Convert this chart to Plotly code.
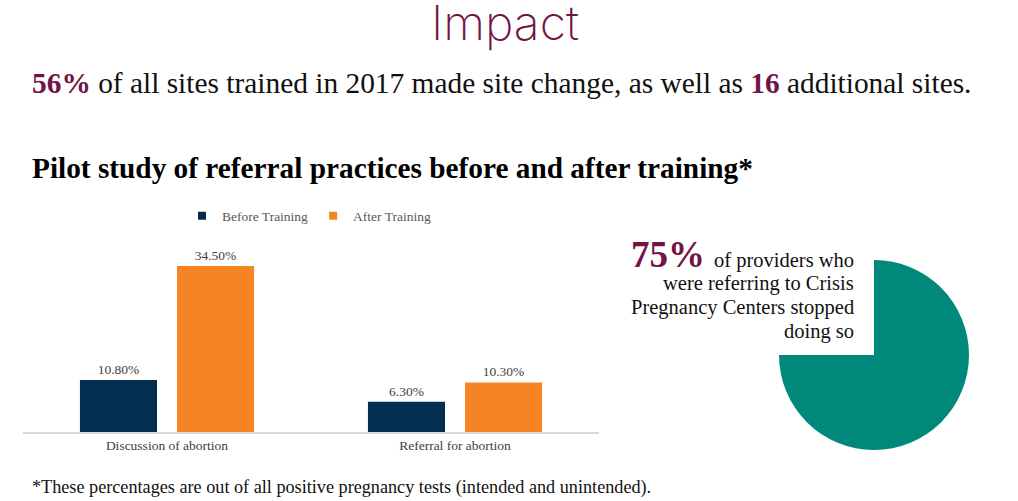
import plotly.graph_objects as go

# ---- data ----
categories = ["Discussion of abortion", "Referral for abortion"]
before_training = [10.8, 6.3]
after_training = [34.5, 10.3]
series_names = ["Before Training", "After Training"]
pie_labels = ["Stopped referring to CPCs", "Other"]
pie_values = [75, 25]
pie_caption_lines = ["of providers who", "were referring to Crisis", "Pregnancy Centers stopped", "doing so"]

W, H = 1018, 501
MAROON = "#731446"
NAVY = "#032E51"
ORANGE = "#F58424"
TEAL = "#00897A"
SERIF = "Liberation Serif"
SMALL = 13.5

def px_x(x):
    return x / W

def px_y(y):
    return (H - y) / H

fig = go.Figure()
for name, vals, col in [(series_names[0], before_training, NAVY), (series_names[1], after_training, ORANGE)]:
    fig.add_trace(go.Bar(
        x=categories, y=vals, name=name, showlegend=False, legendgroup=name,
        marker=dict(color=col, line=dict(width=0)),
        texttemplate="%{y:.2f}%", textposition="outside",
        textfont=dict(family=SERIF, size=SMALL, color="#404040"),
        cliponaxis=False, hoverinfo="skip",
    ))
    # legend entry with a small square swatch
    fig.add_trace(go.Scatter(
        x=[None], y=[None], mode="markers", name=name, legendgroup=name,
        marker=dict(symbol="square", size=8, color=col), hoverinfo="skip",
    ))

fig.add_trace(go.Pie(
    labels=pie_labels, values=pie_values,
    marker=dict(colors=[TEAL, "rgba(255,255,255,0)"], line=dict(width=0)),
    sort=False, direction="clockwise", rotation=0,
    textinfo="none", hoverinfo="skip", showlegend=False,
    domain=dict(x=[px_x(874 - 95), px_x(874 + 95)], y=[px_y(355 + 95), px_y(355 - 95)]),
))

def ann(**kw):
    d = dict(xref="paper", yref="paper", showarrow=False)
    d.update(kw)
    return d

annotations = [
    ann(text="Impact", x=px_x(505), y=px_y(22), xanchor="center", yanchor="middle",
        font=dict(family="Inter", size=48, color=MAROON, weight=200)),
    ann(text=f"<b><span style='color:{MAROON}'>56%</span></b> of all sites trained in 2017 made site change, as well as "
             f"<b><span style='color:{MAROON}'>16</span></b> additional sites.",
        x=px_x(30), y=px_y(83), xanchor="left", yanchor="middle",
        font=dict(family=SERIF, size=29.4, color="#111111")),
    ann(text="<b>Pilot study of referral practices before and after training*</b>",
        x=px_x(30), y=px_y(168), xanchor="left", yanchor="middle",
        font=dict(family=SERIF, size=29.3, color="#000000")),
    ann(text="<b>75%</b>", x=px_x(707), y=px_y(254), xanchor="right", yanchor="middle",
        font=dict(family=SERIF, size=37, color=MAROON)),
    ann(text="*These percentages are out of all positive pregnancy tests (intended and unintended).",
        x=px_x(30), y=px_y(487), xanchor="left", yanchor="middle",
        font=dict(family=SERIF, size=18.2, color="#111111")),
]
for i, line in enumerate(pie_caption_lines):
    annotations.append(ann(text=line, x=px_x(856), y=px_y(260 + 23.8 * i), xanchor="right", yanchor="middle",
                           font=dict(family=SERIF, size=20.5, color="#111111")))

fig.update_layout(
    width=W, height=H, autosize=False,
    margin=dict(l=0, r=0, t=0, b=0),
    paper_bgcolor="white", plot_bgcolor="white",
    barmode="group", bargap=0.326, bargroupgap=0.206,
    showlegend=True,
    legend=dict(orientation="h", x=px_x(309), y=px_y(216), xanchor="center", yanchor="middle",
                font=dict(family=SERIF, size=SMALL, color="#595959"), bgcolor="rgba(0,0,0,0)",
                itemwidth=30, itemclick=False, itemdoubleclick=False, tracegroupgap=0),
    xaxis=dict(domain=[px_x(23), px_x(599)], range=[-0.5, 1.5], showgrid=False,
               showline=True, linecolor="#D9D9D9", linewidth=1.5, ticks="",
               tickfont=dict(family=SERIF, size=SMALL, color="#404040"), fixedrange=True),
    yaxis=dict(domain=[px_y(432), px_y(432 - 38 * 4.812)], range=[0, 38], visible=False,
               showgrid=False, zeroline=False, fixedrange=True),
    annotations=annotations,
)

fig.write_html("out.html", config={"displayModeBar": False})
with open("out.html", "r", encoding="utf-8") as f:
    html = f.read()
html = html.replace("<body>", "<body style=\"margin:0;overflow:hidden\">", 1)
with open("out.html", "w", encoding="utf-8") as f:
    f.write(html)
